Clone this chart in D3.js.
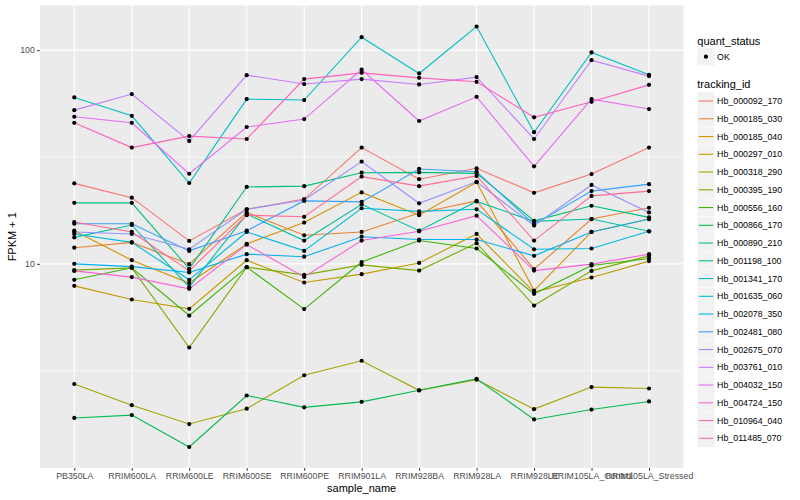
<!DOCTYPE html>
<html>
<head>
<meta charset="utf-8">
<script src="https://cdn.jsdelivr.net/npm/d3@7"></script>
<style>
  body { margin: 0; background: #fff; }
  svg text { font-family: "Liberation Sans", Arial, Helvetica, sans-serif; }
</style>
</head>
<body>
<svg id="chart" width="800" height="500"></svg>
<script>
const samples = ['PB350LA', 'RRIM600LA', 'RRIM600LE', 'RRIM600SE', 'RRIM600PE', 'RRIM901LA',
    'RRIM928BA', 'RRIM928LA', 'RRIM928LE', 'RRIM105LA_Control', 'RRIM105LA_Stressed']

const trackingIds = ['Hb_000092_170', 'Hb_000185_030', 'Hb_000185_040', 'Hb_000297_010', 'Hb_000318_290',
    'Hb_000395_190', 'Hb_000556_160', 'Hb_000866_170', 'Hb_000890_210', 'Hb_001198_100',
    'Hb_001341_170', 'Hb_001635_060', 'Hb_002078_350', 'Hb_002481_080', 'Hb_002675_070',
    'Hb_003761_010', 'Hb_004032_150', 'Hb_004724_150', 'Hb_010964_040', 'Hb_011485_070']

// FPKM + 1, one value per sample
const hb_000092_170 = [23.8, 20.4, 12.8, 18.0, 20.1, 35.0, 24.9, 28.0, 21.5, 26.3, 35.0]
const hb_000185_030 = [11.9, 12.6, 9.97, 17.4, 13.6, 14.1, 17.3, 19.7, 9.45, 16.2, 18.3]
const hb_000185_040 = [14.3, 10.4, 8.13, 12.4, 15.6, 21.6, 16.9, 24.1, 7.50, 14.1, 16.2]
const hb_000297_010 = [7.89, 6.81, 6.16, 10.4, 8.18, 8.95, 10.1, 13.8, 7.38, 8.63, 10.3]
const hb_000318_290 = [2.74, 2.18, 1.78, 2.10, 3.01, 3.52, 2.56, 2.87, 2.09, 2.65, 2.61]
const hb_000395_190 = [9.35, 9.58, 4.06, 9.65, 8.88, 9.89, 9.30, 12.5, 6.38, 9.27, 10.9]
const hb_000556_160 = [8.42, 9.58, 5.73, 9.65, 6.14, 10.2, 12.85, 11.8, 7.24, 9.82, 10.6]
const hb_000866_170 = [1.90, 1.96, 1.39, 2.42, 2.13, 2.26, 2.56, 2.90, 1.87, 2.08, 2.27]
const hb_000890_210 = [19.3, 19.3, 9.48, 22.9, 23.1, 26.7, 26.8, 26.5, 15.9, 18.7, 16.5]
const hb_001198_100 = [13.3, 15.2, 7.78, 17.1, 12.85, 19.0, 14.3, 19.6, 15.8, 16.2, 14.2]
const hb_001341_170 = [60.1, 49.3, 23.9, 59.0, 58.4, 115, 77.8, 129, 41.3, 97.6, 76.7]
const hb_001635_060 = [13.8, 12.6, 8.42, 14.1, 11.5, 18.2, 17.6, 18.0, 11.7, 11.8, 14.2]
const hb_002078_350 = [10.0, 9.71, 9.11, 11.1, 10.8, 13.4, 13.0, 13.0, 10.9, 14.1, 16.2]
const hb_002481_080 = [15.4, 15.4, 11.5, 14.3, 19.7, 19.5, 27.8, 27.0, 15.3, 21.9, 23.6]
const hb_002675_070 = [14.1, 13.8, 11.7, 18.0, 19.9, 30.1, 19.2, 24.2, 15.1, 23.4, 17.4]
const hb_003761_010 = [52.4, 62.3, 37.6, 76.4, 69.4, 73.2, 69.1, 74.8, 38.4, 89.8, 75.6]
const hb_004032_150 = [48.8, 45.7, 26.4, 43.7, 47.6, 81.1, 46.6, 60.5, 28.6, 59.0, 53.0]
const hb_004724_150 = [9.27, 8.67, 7.64, 12.3, 8.69, 12.85, 14.2, 16.8, 9.30, 9.97, 11.1]
const hb_010964_040 = [45.7, 35.0, 39.6, 38.4, 73.2, 78.3, 74.2, 71.1, 48.5, 57.3, 68.8]
const hb_011485_070 = [15.7, 14.1, 9.27, 16.9, 16.6, 25.6, 23.1, 25.8, 12.85, 20.8, 21.9]

const seriesValues = [hb_000092_170, hb_000185_030, hb_000185_040, hb_000297_010, hb_000318_290,
    hb_000395_190, hb_000556_160, hb_000866_170, hb_000890_210, hb_001198_100,
    hb_001341_170, hb_001635_060, hb_002078_350, hb_002481_080, hb_002675_070,
    hb_003761_010, hb_004032_150, hb_004724_150, hb_010964_040, hb_011485_070]

const yBreaks = [10, 100]
const yMinorBreaks = [Math.sqrt(10), Math.sqrt(1000)]

// ggplot hue palette, 20 levels
const palette = ['#F8766D', '#EA8331', '#D89000', '#C09B00', '#A3A500', '#7CAE00', '#39B600', '#00BB4E',
    '#00BF7D', '#00C1A3', '#00BFC4', '#00BAE0', '#00B0F6', '#35A2FF', '#9590FF', '#C77CFF',
    '#E76BF3', '#FA62DB', '#FF62BC', '#FF6C91']

const series = trackingIds.map((id, i) => ({
    id: id,
    values: seriesValues[i].map((v, j) => ({ sample: samples[j], value: v }))
}))

const width = 800, height = 500
const margin = { top: 5.5, right: 116.5, bottom: 32, left: 39.8 }
const panelW = width - margin.left - margin.right
const panelH = height - margin.top - margin.bottom

const svg = d3.select('#chart')

// x scale (discrete, ggplot expansion 0.6)
const x = d3.scalePoint()
    .domain(samples)
    .range([margin.left, margin.left + panelW])
    .padding(0.6)

// y scale (log10, 5% expansion)
const allVals = seriesValues.flat()
const lo = Math.log10(d3.min(allVals)), hi = Math.log10(d3.max(allVals))
const pad = (hi - lo) * 0.05
const y = d3.scaleLog()
    .domain([Math.pow(10, lo - pad), Math.pow(10, hi + pad)])
    .range([margin.top + panelH, margin.top])

// panel background
svg.append('rect')
    .attr('x', margin.left).attr('y', margin.top)
    .attr('width', panelW).attr('height', panelH)
    .attr('fill', '#EBEBEB')

// grid lines
svg.append('g').selectAll('line')
    .data(yMinorBreaks)
    .join('line')
    .attr('x1', margin.left).attr('x2', margin.left + panelW)
    .attr('y1', d => y(d)).attr('y2', d => y(d))
    .attr('stroke', '#fff').attr('stroke-width', 0.55)

svg.append('g').selectAll('line')
    .data(yBreaks)
    .join('line')
    .attr('x1', margin.left).attr('x2', margin.left + panelW)
    .attr('y1', d => y(d)).attr('y2', d => y(d))
    .attr('stroke', '#fff').attr('stroke-width', 1.1)

svg.append('g').selectAll('line')
    .data(samples)
    .join('line')
    .attr('x1', d => x(d)).attr('x2', d => x(d))
    .attr('y1', margin.top).attr('y2', margin.top + panelH)
    .attr('stroke', '#fff').attr('stroke-width', 1.1)

// axes
const xAxis = svg.append('g')
    .attr('transform', 'translate(0,' + (margin.top + panelH) + ')')
    .call(d3.axisBottom(x).tickSize(2.75).tickPadding(2.5))
xAxis.select('.domain').remove()
xAxis.selectAll('line').attr('stroke', '#333')
xAxis.selectAll('text').attr('fill', '#4D4D4D').attr('font-size', 8.8)

const yAxis = svg.append('g')
    .attr('transform', 'translate(' + margin.left + ',0)')
    .call(d3.axisLeft(y).tickValues(yBreaks).tickFormat(d3.format('d')).tickSize(2.75).tickPadding(2.2))
yAxis.select('.domain').remove()
yAxis.selectAll('line').attr('stroke', '#333')
yAxis.selectAll('text').attr('fill', '#4D4D4D').attr('font-size', 8.8)

// axis titles
svg.append('text')
    .attr('x', margin.left + panelW / 2).attr('y', 492)
    .attr('text-anchor', 'middle').attr('font-size', 11)
    .text('sample_name')

svg.append('text')
    .attr('transform', 'translate(16,' + (margin.top + panelH / 2) + ') rotate(-90)')
    .attr('text-anchor', 'middle').attr('font-size', 11)
    .text('FPKM + 1')

// lines
const line = d3.line()
    .x(d => x(d.sample))
    .y(d => y(d.value))

svg.append('g')
    .selectAll('path')
    .data(series)
    .join('path')
    .attr('d', d => line(d.values))
    .attr('fill', 'none')
    .attr('stroke', (d, i) => palette[i])
    .attr('stroke-width', 1.1)

// points
svg.append('g')
    .selectAll('circle')
    .data(series.flatMap(s => s.values))
    .join('circle')
    .attr('cx', d => x(d.sample))
    .attr('cy', d => y(d.value))
    .attr('r', 2.1)
    .attr('fill', '#000')

// legends
const lgX = 697.3, keySize = 17.3

svg.append('text')
    .attr('x', lgX).attr('y', 44.5)
    .attr('font-size', 11)
    .text('quant_status')

svg.append('rect')
    .attr('x', lgX).attr('y', 48)
    .attr('width', keySize).attr('height', keySize)
    .attr('fill', '#F2F2F2')
svg.append('circle')
    .attr('cx', lgX + keySize / 2).attr('cy', 48 + keySize / 2)
    .attr('r', 2.1).attr('fill', '#000')
svg.append('text')
    .attr('x', lgX + keySize + 2.5).attr('y', 48 + keySize / 2)
    .attr('dy', '0.35em').attr('font-size', 8.8)
    .text('OK')

svg.append('text')
    .attr('x', lgX).attr('y', 88)
    .attr('font-size', 11)
    .text('tracking_id')

const keyStep = 17.75
const keys = svg.append('g')
    .selectAll('g')
    .data(trackingIds)
    .join('g')
    .attr('transform', (d, i) => 'translate(' + lgX + ',' + (92.4 + i * keyStep) + ')')

keys.append('rect')
    .attr('width', keySize).attr('height', keySize)
    .attr('fill', '#F2F2F2')
keys.append('line')
    .attr('x1', 1.5).attr('x2', keySize - 1.5)
    .attr('y1', keySize / 2).attr('y2', keySize / 2)
    .attr('stroke', (d, i) => palette[i])
    .attr('stroke-width', 1.1)
keys.append('text')
    .attr('x', keySize + 2.5).attr('y', keySize / 2)
    .attr('dy', '0.35em').attr('font-size', 8.8)
    .text(d => d)
</script>
</body>
</html>
